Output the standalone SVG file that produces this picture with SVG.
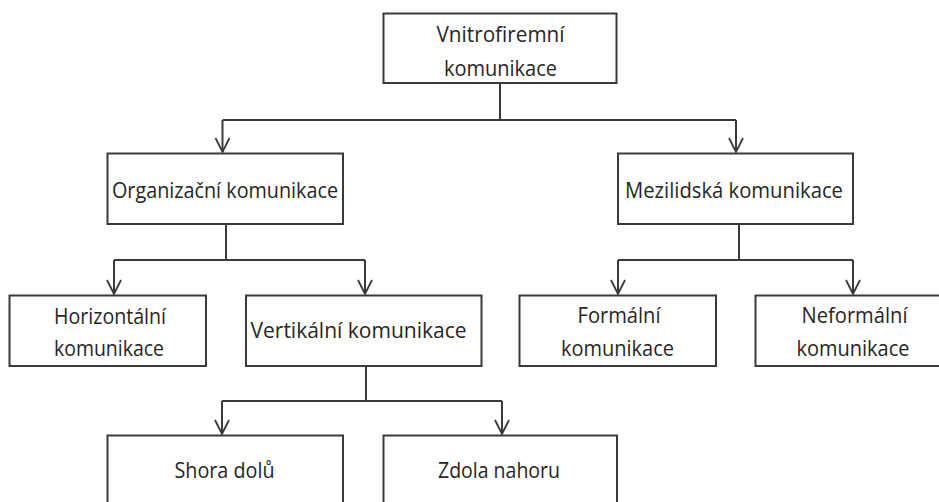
<svg xmlns="http://www.w3.org/2000/svg" width="939" height="502" viewBox="0 0 939 502">
<style>
.box{fill:#fff;stroke:#3a3a3a;stroke-width:2}
.t{font-family:"Open Sans","Noto Sans","Liberation Sans",sans-serif;font-size:21px;fill:#262626;text-anchor:middle}
.c{fill:none;stroke:#3a3a3a;stroke-width:2}
</style>
<defs>
<marker id="arr" markerUnits="userSpaceOnUse" viewBox="-16 -9 18 18" markerWidth="18" markerHeight="18" refX="0" refY="0" orient="auto">
<path d="M-14,-7 L0,0 L-14,7" fill="none" stroke="#3a3a3a" stroke-width="1.8"/>
</marker>
</defs>
<rect width="939" height="502" fill="#fff"/>
<g id="connectors">
<path class="c" d="M500,83 V120 M222.5,120 H736"/>
<path class="c" d="M222.5,120 V152" marker-end="url(#arr)"/>
<path class="c" d="M736,120 V152" marker-end="url(#arr)"/>
<path class="c" d="M226,224 V260 M114,260 H365"/>
<path class="c" d="M114,260 V294" marker-end="url(#arr)"/>
<path class="c" d="M365,260 V294" marker-end="url(#arr)"/>
<path class="c" d="M739,224 V260 M618,260 H853"/>
<path class="c" d="M618,260 V294" marker-end="url(#arr)"/>
<path class="c" d="M853,260 V294" marker-end="url(#arr)"/>
<path class="c" d="M366,366 V401 M222,401 H502"/>
<path class="c" d="M222,401 V434" marker-end="url(#arr)"/>
<path class="c" d="M502,401 V434" marker-end="url(#arr)"/>
</g>
<g id="vnitrofiremni">
<rect class="box" x="383.5" y="13.5" width="233" height="69.5"/>
<text class="t" x="500.5" y="42" textLength="128" lengthAdjust="spacingAndGlyphs">Vnitrofiremní</text>
<text class="t" x="500.5" y="76" textLength="113" lengthAdjust="spacingAndGlyphs">komunikace</text>
</g>
<g id="organizacni">
<rect class="box" x="107.5" y="153.5" width="235.5" height="70.5"/>
<text class="t" x="225" y="198" textLength="226" lengthAdjust="spacingAndGlyphs">Organizační komunikace</text>
</g>
<g id="mezilidska">
<rect class="box" x="618" y="153.5" width="235" height="70.5"/>
<text class="t" x="734" y="198" textLength="218" lengthAdjust="spacingAndGlyphs">Mezilidská komunikace</text>
</g>
<g id="horizontalni">
<rect class="box" x="9.5" y="295.5" width="196.5" height="70.5"/>
<text class="t" x="110" y="324" textLength="112" lengthAdjust="spacingAndGlyphs">Horizontální</text>
<text class="t" x="109" y="356" textLength="110" lengthAdjust="spacingAndGlyphs">komunikace</text>
</g>
<g id="vertikalni">
<rect class="box" x="246" y="295.5" width="235.5" height="70.5"/>
<text class="t" x="358.5" y="338" textLength="216" lengthAdjust="spacingAndGlyphs">Vertikální komunikace</text>
</g>
<g id="formalni">
<rect class="box" x="519.5" y="295.5" width="196.5" height="70.5"/>
<text class="t" x="619" y="323" textLength="83" lengthAdjust="spacingAndGlyphs">Formální</text>
<text class="t" x="617.5" y="356" textLength="113" lengthAdjust="spacingAndGlyphs">komunikace</text>
</g>
<g id="neformalni">
<rect class="box" x="755.5" y="295.5" width="192" height="70.5"/>
<text class="t" x="854.5" y="323" textLength="106" lengthAdjust="spacingAndGlyphs">Neformální</text>
<text class="t" x="853" y="356" textLength="113" lengthAdjust="spacingAndGlyphs">komunikace</text>
</g>
<g id="shora">
<rect class="box" x="107.5" y="435.5" width="235.5" height="80"/>
<text class="t" x="224.5" y="478" textLength="100" lengthAdjust="spacingAndGlyphs">Shora dolů</text>
</g>
<g id="zdola">
<rect class="box" x="383.5" y="435.5" width="233.5" height="80"/>
<text class="t" x="499" y="478" textLength="122" lengthAdjust="spacingAndGlyphs">Zdola nahoru</text>
</g>
</svg>
